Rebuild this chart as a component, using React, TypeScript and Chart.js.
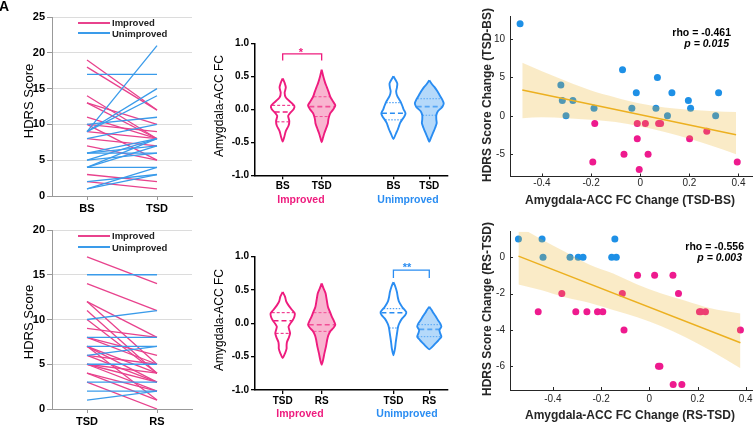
import React, { useEffect, useRef } from 'react';
import { Chart, registerables } from 'chart.js';
Chart.register(...registerables);

const FONT = '"Liberation Sans", Arial, Helvetica, sans-serif';
Chart.defaults.font.family = FONT;

// ---------- colours ----------
const A_PINK = '#E8428D';
const A_BLUE = '#3A9BEA';
const V_PINK = '#EE1C7E';
const V_BLUE = '#2A8DF2';
const V_PINK_FILL = 'rgba(244,120,170,0.55)';
const V_BLUE_FILL = 'rgba(120,185,245,0.55)';
const S_PINK = '#EE1A8E';
const S_BLUE = '#1E90E6';
const FIT = '#EDB120';
const FIT_BAND = 'rgba(237,177,32,0.25)';

// ---------- Panel A (HDRS scores) ----------
const A1_CATS = ['BS', 'TSD'];
const A1_IMP_BS = [19, 18, 14, 13, 13, 11, 10, 10, 9, 8, 7, 3, 2];
const A1_IMP_TSD = [12, 12, 8, 10, 8, 8, 5, 9, 8, 7, 5, 2, 1];
const A1_UNI_BS = [9, 17, 9, 9, 10, 4, 8, 6, 6, 5, 4, 6, 5, 4, 1, 1, 2];
const A1_UNI_TSD = [21, 17, 15, 14, 11, 8, 10, 8, 7, 8, 7, 6, 6, 4, 3, 4, 3];

const A2_CATS = ['TSD', 'RS'];
const A2_IMP_TSD = [17, 14, 12, 12, 11, 10, 9, 8, 8, 7, 7, 7, 6, 6, 5, 5, 4, 4, 3, 5];
const A2_IMP_RS = [14, 11, 8, 5, 4, 4, 8, 6, 5, 4, 3, 1, 5, 3, 4, 2, 2, 1, 0, 3];
const A2_UNI_TSD = [15, 10, 8, 7, 6, 3, 2, 1, 5];
const A2_UNI_RS = [15, 11, 8, 7, 7, 3, 2, 2, 5];

// ---------- Panel B (violins) ----------
const B_POS = [1, 2, 3.84, 4.76];
const B1_CATS = ['BS', 'TSD', 'BS', 'TSD'];
const B2_CATS = ['TSD', 'RS', 'TSD', 'RS'];

const B1_IMP_BS_Y = [0.47, 0.40, 0.33, 0.25, 0.18, 0.10, 0.05, 0.00, -0.05, -0.10, -0.18, -0.25, -0.33, -0.42, -0.49];
const B1_IMP_BS_W = [0, 0.05, 0.08, 0.05, 0.08, 0.22, 0.30, 0.28, 0.20, 0.14, 0.17, 0.15, 0.08, 0.04, 0];
const B1_IMP_BS_Q = [-0.19, -0.04, 0.06];
const B1_IMP_TSD_Y = [0.60, 0.50, 0.40, 0.34, 0.26, 0.19, 0.12, 0.06, 0.00, -0.06, -0.11, -0.16, -0.21, -0.28, -0.36, -0.44, -0.50];
const B1_IMP_TSD_W = [0, 0.04, 0.09, 0.13, 0.18, 0.22, 0.29, 0.35, 0.30, 0.22, 0.19, 0.17, 0.16, 0.12, 0.07, 0.03, 0];
const B1_IMP_TSD_Q = [-0.11, 0.04, 0.19];
const B1_UNI_BS_Y = [0.50, 0.44, 0.39, 0.33, 0.27, 0.20, 0.12, 0.05, 0.00, -0.06, -0.11, -0.16, -0.21, -0.26, -0.31, -0.36, -0.45];
const B1_UNI_BS_W = [0, 0.06, 0.10, 0.09, 0.07, 0.10, 0.18, 0.23, 0.26, 0.31, 0.28, 0.22, 0.17, 0.14, 0.11, 0.07, 0];
const B1_UNI_BS_Q = [-0.16, -0.06, 0.10];
const B1_UNI_TSD_Y = [0.44, 0.38, 0.34, 0.28, 0.22, 0.15, 0.09, 0.04, 0.015, -0.03, -0.09, -0.15, -0.21, -0.28, -0.34, -0.42, -0.49];
const B1_UNI_TSD_W = [0, 0.07, 0.13, 0.20, 0.26, 0.33, 0.37, 0.34, 0.30, 0.22, 0.18, 0.18, 0.19, 0.15, 0.11, 0.05, 0];
const B1_UNI_TSD_Q = [-0.09, 0.04, 0.16];

const B2_IMP_TSD_Y = [0.47, 0.40, 0.33, 0.27, 0.20, 0.15, 0.10, 0.05, 0.00, -0.05, -0.10, -0.15, -0.21, -0.28, -0.33, -0.38, -0.45, -0.52];
const B2_IMP_TSD_W = [0, 0.06, 0.09, 0.15, 0.24, 0.31, 0.30, 0.26, 0.20, 0.15, 0.17, 0.19, 0.16, 0.11, 0.10, 0.10, 0.06, 0];
const B2_IMP_TSD_Q = [-0.15, 0.04, 0.16];
const B2_IMP_RS_Y = [0.60, 0.52, 0.45, 0.35, 0.25, 0.16, 0.10, 0.04, -0.02, -0.07, -0.12, -0.18, -0.25, -0.35, -0.45, -0.54, -0.62];
const B2_IMP_RS_W = [0, 0.05, 0.10, 0.13, 0.16, 0.22, 0.26, 0.31, 0.35, 0.30, 0.22, 0.17, 0.14, 0.11, 0.07, 0.04, 0];
const B2_IMP_RS_Q = [-0.12, -0.02, 0.16];
const B2_UNI_TSD_Y = [0.62, 0.55, 0.47, 0.40, 0.33, 0.25, 0.17, 0.12, 0.07, 0.00, -0.05, -0.12, -0.20, -0.28, -0.38, -0.48];
const B2_UNI_TSD_W = [0, 0.05, 0.09, 0.11, 0.14, 0.22, 0.33, 0.30, 0.22, 0.15, 0.12, 0.10, 0.08, 0.06, 0.04, 0];
const B2_UNI_TSD_Q = [-0.07, 0.16, 0.22];
const B2_UNI_RS_Y = [0.25, 0.20, 0.15, 0.10, 0.05, 0.00, -0.05, -0.10, -0.15, -0.20, -0.25, -0.30, -0.35, -0.39];
const B2_UNI_RS_W = [0, 0.06, 0.11, 0.17, 0.22, 0.28, 0.31, 0.26, 0.28, 0.31, 0.24, 0.16, 0.08, 0];
const B2_UNI_RS_Q = [-0.20, -0.09, -0.02];

const B1_SIG = [1, 2, 0.74, 0.84];
const B2_SIG = [3.84, 4.76, 0.68, 0.80];

// ---------- Panel C (scatter) ----------
const C1_BLUE_X = [-0.489, -0.323, -0.317, -0.302, -0.274, -0.188, -0.072, -0.034, -0.016, 0.064, 0.070, 0.111, 0.129, 0.196, 0.205, 0.307, 0.319];
const C1_BLUE_Y = [12, 4, 2, 0, 2, 1, 6, 1, 3, 1, 5, 0, 3, 2, 1, 0, 3];
const C1_PINK_X = [-0.185, -0.193, -0.066, -0.012, -0.012, -0.004, 0.021, 0.032, 0.075, 0.083, 0.201, 0.271, 0.395];
const C1_PINK_Y = [-1, -6, -5, -1, -3, -7, -1, -5, -1, -1, -3, -2, -6];
const C1_FIT_X = [-0.48, 0.39];
const C1_FIT_Y = [3.35, -2.45];
const C1_BAND_X = [-0.48, -0.4, -0.3, -0.2, -0.1, 0, 0.1, 0.2, 0.3, 0.39];
const C1_BAND_HI = [6.9, 5.8, 4.5, 3.3, 2.4, 1.6, 1.1, 0.8, 0.6, 0.5];
const C1_BAND_LO = [-0.3, -0.2, -0.3, -0.5, -0.8, -1.4, -2.1, -3.0, -4.0, -5.0];

const C2_BLUE_X = [-0.543, -0.445, -0.441, -0.329, -0.295, -0.275, -0.156, -0.143, -0.137];
const C2_BLUE_Y = [1, 1, 0, 0, 0, 0, 0, 1, 0];
const C2_PINK_X = [-0.461, -0.363, -0.305, -0.259, -0.215, -0.193, -0.112, -0.105, -0.049, 0.022, 0.038, 0.044, 0.098, 0.099, 0.121, 0.135, 0.208, 0.214, 0.233, 0.378];
const C2_PINK_Y = [-3, -2, -3, -3, -3, -3, -2, -4, -1, -1, -6, -6, -1, -7, -2, -7, -3, -3, -3, -4];
const C2_FIT_X = [-0.543, 0.378];
const C2_FIT_Y = [0.06, -4.7];
const C2_BAND_X = [-0.543, -0.45, -0.35, -0.25, -0.15, -0.05, 0.05, 0.15, 0.25, 0.378];
const C2_BAND_HI = [1.7, 1.0, 0.3, -0.4, -0.9, -1.5, -2.0, -2.4, -2.8, -3.1];
const C2_BAND_LO = [-1.5, -1.8, -2.2, -2.5, -2.9, -3.3, -3.8, -4.4, -5.1, -6.1];

// ---------- helpers ----------
const pts = (xs: number[], ys: number[]) => xs.map((x, i) => ({ x, y: ys[i] }));

function ChartBox({ left, top, width, height, make }: any) {
  const ref = useRef<HTMLCanvasElement>(null);
  useEffect(() => {
    const chart = new Chart(ref.current as HTMLCanvasElement, make());
    return () => chart.destroy();
  }, []);
  return (
    <canvas
      ref={ref}
      width={width}
      height={height}
      style={{ position: 'absolute', left, top, width, height }}
    />
  );
}

function Txt({ x, y, children, style, rotate, anchor }: any) {
  const tx = anchor === 'end' ? '-100%' : anchor === 'start' ? '0%' : '-50%';
  return (
    <div
      style={{
        position: 'absolute',
        left: x,
        top: y,
        whiteSpace: 'nowrap',
        lineHeight: 1,
        transform: `translate(${tx},-50%)${rotate ? ' rotate(-90deg)' : ''}`,
        transformOrigin: rotate ? '50% 50%' : undefined,
        fontFamily: FONT,
        ...style,
      }}
    >
      {children}
    </div>
  );
}

const baseOpts = (pad: any) => ({
  animation: false,
  responsive: false,
  devicePixelRatio: 1,
  layout: { padding: pad },
  plugins: { legend: { display: false }, tooltip: { enabled: false } },
});

// ---------- Panel A ----------
function makeA(cats: string[], impA: number[], impB: number[], uniA: number[], uniB: number[], yMax: number, padTop: number, xH: number) {
  const datasets: any[] = [];
  const seg = (a: number, b: number, c: string) => ({
    data: [{ x: 1, y: a }, { x: 2, y: b }],
    borderColor: c,
    borderWidth: 1.3,
    pointRadius: 0,
    fill: false,
    tension: 0,
  });
  uniA.forEach((v, i) => datasets.push(seg(v, uniB[i], A_BLUE)));
  impA.forEach((v, i) => datasets.push(seg(v, impB[i], A_PINK)));
  return {
    type: 'line',
    data: { datasets },
    options: {
      ...baseOpts({ top: padTop, right: 8, left: 0, bottom: 0 }),
      scales: {
        x: {
          type: 'linear',
          min: 0.5,
          max: 2.5,
          afterBuildTicks: (s: any) => { s.ticks = [{ value: 1 }, { value: 2 }]; },
          afterFit: (s: any) => { s.height = xH; },
          ticks: {
            callback: (v: number) => (v === 1 ? cats[0] : cats[1]),
            font: { size: 11, weight: 'bold' },
            color: '#000',
            padding: 2,
            maxRotation: 0,
            autoSkip: false,
          },
          grid: { drawOnChartArea: false, tickLength: 4, color: '#999' },
          border: { color: '#999' },
        },
        y: {
          type: 'linear',
          min: 0,
          max: yMax,
          afterFit: (s: any) => { s.width = 52; },
          ticks: { stepSize: 5, font: { size: 11, weight: 'bold' }, color: '#000', padding: 2 },
          grid: { color: '#dcdcdc', tickColor: '#999', tickLength: 5 },
          border: { color: '#999' },
        },
      },
    },
  };
}

// ---------- Panel B ----------
function halfWidthAt(Y: number[], W: number[], q: number) {
  for (let i = 0; i < Y.length - 1; i++) {
    if (Y[i] >= q && q >= Y[i + 1]) {
      const t = (Y[i] - q) / (Y[i] - Y[i + 1]);
      return W[i] + t * (W[i + 1] - W[i]);
    }
  }
  return 0;
}

function violin(cx: number, Y: number[], W: number[], Q: number[], color: string, filled: boolean, dotted: boolean) {
  const poly: any[] = Y.map((y, i) => ({ x: cx + W[i], y }));
  for (let i = Y.length - 2; i >= 0; i--) poly.push({ x: cx - W[i], y: Y[i] });
  const out: any[] = [
    {
      data: poly,
      borderColor: color,
      borderWidth: 1.9,
      backgroundColor: filled ? (color === V_PINK ? V_PINK_FILL : V_BLUE_FILL) : 'rgba(0,0,0,0)',
      fill: filled ? 'shape' : false,
      pointRadius: 0,
      tension: 0.2,
    },
  ];
  Q.forEach((q, k) => {
    const w = halfWidthAt(Y, W, q) * 0.95;
    const med = k === 1;
    out.push({
      data: [{ x: cx - w, y: q }, { x: cx + w, y: q }],
      borderColor: color,
      borderWidth: med ? 1.6 : 1,
      borderDash: med ? [5, 3] : dotted ? [1.5, 1.5] : [3, 2],
      pointRadius: 0,
      fill: false,
      tension: 0,
    });
  });
  return out;
}

function makeB(cats: string[], vs: any[], sig: number[], sigColor: string, padTop: number, xH: number) {
  const datasets: any[] = [];
  vs.forEach((v) => datasets.push(...violin(v[0], v[1], v[2], v[3], v[4], v[5], v[6])));
  datasets.push({
    data: [{ x: sig[0], y: sig[2] }, { x: sig[0], y: sig[3] }, { x: sig[1], y: sig[3] }, { x: sig[1], y: sig[2] }],
    borderColor: sigColor,
    borderWidth: 1.3,
    pointRadius: 0,
    fill: false,
    tension: 0,
  });
  return {
    type: 'line',
    data: { datasets },
    options: {
      ...baseOpts({ top: padTop, right: 2, left: 0, bottom: 0 }),
      scales: {
        x: {
          type: 'linear',
          min: 0.29,
          max: 5.24,
          afterBuildTicks: (s: any) => { s.ticks = B_POS.map((v) => ({ value: v })); },
          afterFit: (s: any) => { s.height = xH; },
          ticks: {
            callback: (_v: number, i: number) => cats[i],
            font: { size: 10, weight: 'bold' },
            color: '#000',
            padding: 1,
            maxRotation: 0,
            autoSkip: false,
          },
          grid: { drawOnChartArea: false, tickLength: 4, color: '#000', lineWidth: 1.3 },
          border: { color: '#000', width: 1.5 },
        },
        y: {
          type: 'linear',
          min: -1,
          max: 1,
          afterFit: (s: any) => { s.width = 50; },
          ticks: {
            stepSize: 0.5,
            callback: (v: number) => v.toFixed(1),
            font: { size: 10, weight: 'bold' },
            color: '#000',
            padding: 2,
          },
          grid: { drawOnChartArea: false, tickLength: 4, color: '#000', lineWidth: 1.3 },
          border: { color: '#000', width: 1.5 },
        },
      },
    },
  };
}

// ---------- Panel C ----------
const inwardTicks = {
  id: 'inwardTicks',
  afterDraw(chart: any) {
    const { ctx, chartArea, scales } = chart;
    ctx.save();
    ctx.strokeStyle = '#262626';
    ctx.lineWidth = 1;
    scales.x.ticks.forEach((t: any) => {
      const px = Math.round(scales.x.getPixelForValue(t.value)) + 0.5;
      ctx.beginPath();
      ctx.moveTo(px, chartArea.bottom);
      ctx.lineTo(px, chartArea.bottom - 3);
      ctx.stroke();
    });
    scales.y.ticks.forEach((t: any) => {
      const py = Math.round(scales.y.getPixelForValue(t.value)) + 0.5;
      ctx.beginPath();
      ctx.moveTo(chartArea.left, py);
      ctx.lineTo(chartArea.left + 3, py);
      ctx.stroke();
    });
    ctx.restore();
  },
};

function makeC(o: any) {
  return {
    type: 'line',
    data: {
      datasets: [
        {
          data: pts(o.bandX, o.bandHi),
          borderWidth: 0,
          borderColor: 'rgba(0,0,0,0)',
          backgroundColor: FIT_BAND,
          pointRadius: 0,
          fill: '+1',
          cubicInterpolationMode: 'monotone',
        },
        {
          data: pts(o.bandX, o.bandLo),
          borderWidth: 0,
          borderColor: 'rgba(0,0,0,0)',
          pointRadius: 0,
          fill: false,
          cubicInterpolationMode: 'monotone',
        },
        {
          data: pts(o.fitX, o.fitY),
          borderColor: FIT,
          borderWidth: 1.5,
          pointRadius: 0,
          fill: false,
        },
        {
          data: pts(o.blueX, o.blueY),
          showLine: false,
          pointRadius: 3.5,
          pointBorderWidth: 0,
          pointBackgroundColor: S_BLUE,
          borderColor: S_BLUE,
        },
        {
          data: pts(o.pinkX, o.pinkY),
          showLine: false,
          pointRadius: 3.5,
          pointBorderWidth: 0,
          pointBackgroundColor: S_PINK,
          borderColor: S_PINK,
        },
      ],
    },
    options: {
      ...baseOpts({ top: o.padTop, right: 0, left: 0, bottom: 0 }),
      scales: {
        x: {
          type: 'linear',
          min: o.xMin,
          max: o.xMax,
          afterBuildTicks: (s: any) => { s.ticks = o.xTicks.map((v: number) => ({ value: v })); },
          afterFit: (s: any) => { s.height = o.xH; },
          ticks: {
            callback: (v: number) => String(v),
            font: { size: 10 },
            color: '#262626',
            padding: o.xPad,
            maxRotation: 0,
            autoSkip: false,
          },
          grid: { display: true, drawOnChartArea: false, drawTicks: false },
          border: { color: '#262626', width: 1 },
        },
        y: {
          type: 'linear',
          min: o.yMin,
          max: o.yMax,
          afterBuildTicks: (s: any) => { s.ticks = o.yTicks.map((v: number) => ({ value: v })); },
          afterFit: (s: any) => { s.width = 30; },
          ticks: { font: { size: 10 }, color: '#262626', padding: 5 },
          grid: { display: true, drawOnChartArea: false, drawTicks: false },
          border: { color: '#262626', width: 1 },
        },
      },
    },
    plugins: [inwardTicks],
  };
}

// ---------- App ----------
const legendLine = (x: number, y: number, c: string) => (
  <div style={{ position: 'absolute', left: x, top: y - 0.75, width: 32, height: 1.5, background: c }} />
);

export default function App() {
  const tickBold = { fontWeight: 'bold', color: '#000' };
  return (
    <div style={{ position: 'fixed', left: 0, top: 0, width: 756, height: 425, background: '#fff', overflow: 'hidden', fontFamily: FONT }}>
      {/* Panel A top */}
      <ChartBox left={0} top={0} width={200} height={215}
        make={() => makeA(A1_CATS, A1_IMP_BS, A1_IMP_TSD, A1_UNI_BS, A1_UNI_TSD, 25, 17, 19)} />
      {/* Panel A bottom */}
      <ChartBox left={0} top={215} width={200} height={210}
        make={() => makeA(A2_CATS, A2_IMP_TSD, A2_IMP_RS, A2_UNI_TSD, A2_UNI_RS, 20, 15, 16)} />

      {/* Panel B top */}
      <ChartBox left={205} top={25} width={245} height={185}
        make={() => makeB(B1_CATS, [
          [B_POS[0], B1_IMP_BS_Y, B1_IMP_BS_W, B1_IMP_BS_Q, V_PINK, false, false],
          [B_POS[1], B1_IMP_TSD_Y, B1_IMP_TSD_W, B1_IMP_TSD_Q, V_PINK, true, false],
          [B_POS[2], B1_UNI_BS_Y, B1_UNI_BS_W, B1_UNI_BS_Q, V_BLUE, false, true],
          [B_POS[3], B1_UNI_TSD_Y, B1_UNI_TSD_W, B1_UNI_TSD_Q, V_BLUE, true, true],
        ], B1_SIG, V_PINK, 18.3, 34.7)} />
      {/* Panel B bottom */}
      <ChartBox left={205} top={235} width={245} height={185}
        make={() => makeB(B2_CATS, [
          [B_POS[0], B2_IMP_TSD_Y, B2_IMP_TSD_W, B2_IMP_TSD_Q, V_PINK, false, false],
          [B_POS[1], B2_IMP_RS_Y, B2_IMP_RS_W, B2_IMP_RS_Q, V_PINK, true, false],
          [B_POS[2], B2_UNI_TSD_Y, B2_UNI_TSD_W, B2_UNI_TSD_Q, V_BLUE, false, true],
          [B_POS[3], B2_UNI_RS_Y, B2_UNI_RS_W, B2_UNI_RS_Q, V_BLUE, true, true],
        ], B2_SIG, V_BLUE, 21.7, 30)} />

      {/* Panel C top */}
      <ChartBox left={480} top={0} width={276} height={210}
        make={() => makeC({
          bandX: C1_BAND_X, bandHi: C1_BAND_HI, bandLo: C1_BAND_LO,
          fitX: C1_FIT_X, fitY: C1_FIT_Y,
          blueX: C1_BLUE_X, blueY: C1_BLUE_Y, pinkX: C1_PINK_X, pinkY: C1_PINK_Y,
          xMin: -0.53, xMax: 0.455, yMin: -7.9, yMax: 13,
          xTicks: [-0.4, -0.2, 0, 0.2, 0.4], yTicks: [-5, 0, 5, 10],
          padTop: 16, xH: 33.5, xPad: 1,
        })} />
      {/* Panel C bottom */}
      <ChartBox left={480} top={215} width={276} height={210}
        make={() => makeC({
          bandX: C2_BAND_X, bandHi: C2_BAND_HI, bandLo: C2_BAND_LO,
          fitX: C2_FIT_X, fitY: C2_FIT_Y,
          blueX: C2_BLUE_X, blueY: C2_BLUE_Y, pinkX: C2_PINK_X, pinkY: C2_PINK_Y,
          xMin: -0.578, xMax: 0.426, yMin: -7.3, yMax: 1.4,
          xTicks: [-0.4, -0.2, 0, 0.2, 0.4], yTicks: [-6, -4, -2, 0],
          padTop: 16.7, xH: 35, xPad: 3,
        })} />

      {/* Panel letter */}
      <Txt x={-1} y={6} anchor="start" style={{ fontSize: 14, fontWeight: 'bold', color: '#000' }}>A</Txt>

      {/* Panel A texts */}
      <Txt x={28} y={101} rotate style={{ fontSize: 13, color: '#000' }}>HDRS Score</Txt>
      <Txt x={28} y={322} rotate style={{ fontSize: 13, color: '#000' }}>HDRS Score</Txt>
      {legendLine(78, 23, A_PINK)}
      {legendLine(78, 33, A_BLUE)}
      <Txt x={112} y={23} anchor="start" style={{ fontSize: 9.5, ...tickBold, color: '#222' }}>Improved</Txt>
      <Txt x={112} y={33.5} anchor="start" style={{ fontSize: 9.5, ...tickBold, color: '#222' }}>Unimproved</Txt>
      {legendLine(78, 236, A_PINK)}
      {legendLine(78, 247, A_BLUE)}
      <Txt x={112} y={236} anchor="start" style={{ fontSize: 9.5, ...tickBold, color: '#222' }}>Improved</Txt>
      <Txt x={112} y={247.5} anchor="start" style={{ fontSize: 9.5, ...tickBold, color: '#222' }}>Unimproved</Txt>

      {/* Panel B texts */}
      <Txt x={219} y={106} rotate style={{ fontSize: 12, color: '#000' }}>Amygdala-ACC FC</Txt>
      <Txt x={219} y={320} rotate style={{ fontSize: 12, color: '#000' }}>Amygdala-ACC FC</Txt>
      <Txt x={301} y={199} style={{ fontSize: 10.5, fontWeight: 'bold', color: V_PINK }}>Improved</Txt>
      <Txt x={408} y={199} style={{ fontSize: 10.5, fontWeight: 'bold', color: V_BLUE }}>Unimproved</Txt>
      <Txt x={300} y={413} style={{ fontSize: 10.5, fontWeight: 'bold', color: V_PINK }}>Improved</Txt>
      <Txt x={407} y={413} style={{ fontSize: 10.5, fontWeight: 'bold', color: V_BLUE }}>Unimproved</Txt>
      <Txt x={301} y={52} style={{ fontSize: 11, fontWeight: 'bold', color: V_PINK }}>*</Txt>
      <Txt x={407} y={267} style={{ fontSize: 11, fontWeight: 'bold', color: V_BLUE }}>**</Txt>

      {/* Panel C texts */}
      <Txt x={487} y={95} rotate style={{ fontSize: 12, fontWeight: 'bold', color: '#262626' }}>HDRS Score Change (TSD-BS)</Txt>
      <Txt x={630} y={200} style={{ fontSize: 12, fontWeight: 'bold', color: '#262626' }}>Amygdala-ACC FC Change (TSD-BS)</Txt>
      <Txt x={487} y={309} rotate style={{ fontSize: 12, fontWeight: 'bold', color: '#262626' }}>HDRS Score Change (RS-TSD)</Txt>
      <Txt x={630} y={415} style={{ fontSize: 12, fontWeight: 'bold', color: '#262626' }}>Amygdala-ACC FC Change (RS-TSD)</Txt>
      <Txt x={731} y={32} anchor="end" style={{ fontSize: 10.5, fontWeight: 'bold', color: '#000' }}>rho = -0.461</Txt>
      <Txt x={729} y={42.5} anchor="end" style={{ fontSize: 10.5, fontWeight: 'bold', fontStyle: 'italic', color: '#000' }}>p = 0.015</Txt>
      <Txt x={744} y={246} anchor="end" style={{ fontSize: 10.5, fontWeight: 'bold', color: '#000' }}>rho = -0.556</Txt>
      <Txt x={742} y={256.5} anchor="end" style={{ fontSize: 10.5, fontWeight: 'bold', fontStyle: 'italic', color: '#000' }}>p = 0.003</Txt>
    </div>
  );
}
